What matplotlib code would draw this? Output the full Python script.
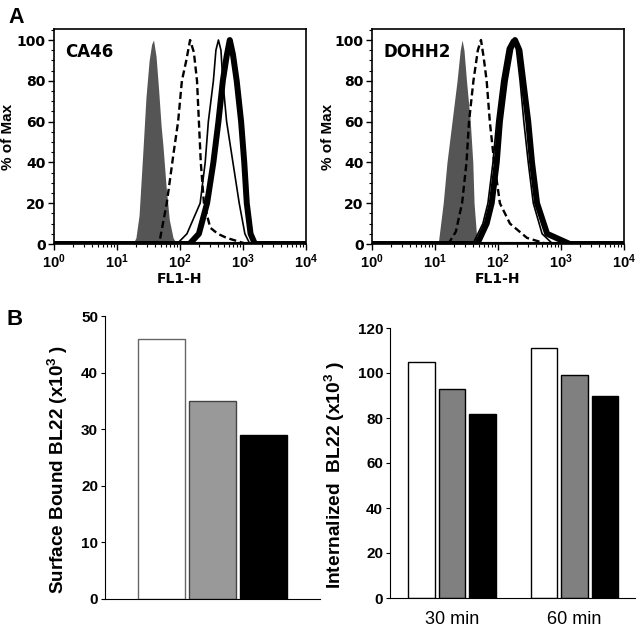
import numpy as np
import matplotlib
matplotlib.use('Agg')
import matplotlib.pyplot as plt
from matplotlib.ticker import MultipleLocator, LogLocator, NullFormatter

plt.rcParams['font.family'] = ['Liberation Sans', 'DejaVu Sans']
plt.rcParams['font.weight'] = 'bold'
plt.rcParams['mathtext.fontset'] = 'custom'
plt.rcParams['mathtext.rm'] = 'Liberation Sans:bold'
plt.rcParams['mathtext.it'] = 'Liberation Sans:bold'
plt.rcParams['mathtext.bf'] = 'Liberation Sans:bold'

# ---- panel A: flow histograms, (log10 FL1-H, % of Max) ----
ca46_ctrl_x = [0, 1.25, 1.30, 1.35, 1.41, 1.46, 1.51, 1.55, 1.58, 1.62, 1.66, 1.70, 1.73, 1.78, 1.83, 1.89, 1.95, 4]
ca46_ctrl_y = [0, 0, 3, 14, 45, 72, 90, 98, 100, 92, 76, 58, 48, 28, 12, 3, 0, 0]
ca46_dash_x = [0, 1.60, 1.68, 1.79, 1.90, 1.97, 2.03, 2.10, 2.16, 2.22, 2.27, 2.30, 2.33, 2.38, 2.48, 2.60, 2.74, 3.06, 4]
ca46_dash_y = [0, 0, 2, 20, 45, 60, 80, 90, 100, 94, 80, 60, 40, 20, 8, 5, 3, 0, 0]
ca46_thin_x = [0, 1.95, 2.11, 2.32, 2.40, 2.45, 2.53, 2.57, 2.61, 2.65, 2.68, 2.74, 2.84, 2.94, 3.03, 3.11, 4]
ca46_thin_y = [0, 0, 5, 20, 40, 60, 80, 95, 100, 95, 80, 60, 40, 20, 5, 0, 0]
ca46_thick_x = [0, 2.15, 2.30, 2.43, 2.53, 2.61, 2.68, 2.74, 2.79, 2.84, 2.90, 2.97, 3.02, 3.06, 3.12, 3.19, 4]
ca46_thick_y = [0, 0, 5, 20, 40, 60, 80, 92, 100, 93, 80, 60, 40, 20, 5, 0, 0]

dohh2_ctrl_x = [0, 1.05, 1.13, 1.19, 1.27, 1.35, 1.40, 1.43, 1.46, 1.50, 1.56, 1.60, 1.62, 1.67, 4]
dohh2_ctrl_y = [0, 0, 20, 40, 60, 80, 95, 100, 95, 80, 60, 40, 20, 0, 0]
dohh2_dash_x = [0, 1.21, 1.33, 1.43, 1.50, 1.54, 1.61, 1.68, 1.73, 1.77, 1.82, 1.87, 1.94, 2.03, 2.19, 2.46, 2.78, 4]
dohh2_dash_y = [0, 0, 6, 20, 40, 60, 80, 95, 100, 92, 80, 60, 40, 20, 10, 3, 0, 0]
dohh2_thin_x = [0, 1.60, 1.76, 1.84, 1.92, 1.98, 2.06, 2.15, 2.22, 2.29, 2.35, 2.41, 2.48, 2.56, 2.70, 2.87, 4]
dohh2_thin_y = [0, 0, 10, 20, 40, 60, 80, 96, 100, 96, 80, 60, 40, 20, 5, 0, 0]
dohh2_thick_x = [0, 1.67, 1.82, 1.90, 1.98, 2.03, 2.11, 2.20, 2.27, 2.34, 2.40, 2.48, 2.54, 2.62, 2.78, 3.14, 4]
dohh2_thick_y = [0, 0, 10, 20, 40, 60, 80, 96, 100, 95, 80, 60, 40, 20, 5, 0, 0]

# ---- panel B: bar values ----
surface_bound = [46, 35, 29]
times = ['30 min', '60 min']
internalized = {
    'white': [105, 111],
    'gray': [93, 99],
    'black': [82, 90],
}

fig = plt.figure(figsize=(6.4, 6.32), dpi=100)
WIDE = ['DejaVu Sans']  # panel A text in the figure is wide


def hist_panel(ax, name, ctrl, dash, thin, thick, ylab_x):
    ax.fill_between(10 ** np.array(ctrl[0]), ctrl[1], color='#555555', lw=0, zorder=2)
    ax.plot(10 ** np.array(dash[0]), dash[1], color='black', lw=1.7, ls=(0, (3, 1.6)), zorder=3)
    ax.plot(10 ** np.array(thin[0]), thin[1], color='black', lw=1.2, zorder=4)
    ax.plot(10 ** np.array(thick[0]), thick[1], color='black', lw=4.3, zorder=5)
    ax.axhline(0, color='black', lw=3, zorder=6)
    ax.set_xscale('log')
    ax.set_xlim(1, 1e4)
    ax.set_ylim(0, 105.4)
    ax.set_xticks([1, 10, 100, 1000, 10000])
    ax.set_xticklabels([r'$\mathregular{10^{%d}}$' % i for i in range(5)])
    ax.xaxis.set_minor_locator(LogLocator(base=10, subs=np.arange(2, 10)))
    ax.xaxis.set_minor_formatter(NullFormatter())
    ax.set_yticks([0, 20, 40, 60, 80, 100])
    ax.yaxis.set_minor_locator(MultipleLocator(5))
    ax.tick_params(which='major', length=4, width=1, labelsize=10.5, pad=2)
    ax.tick_params(which='minor', length=2, width=0.8)
    for lab in ax.get_yticklabels():
        lab.set_family(WIDE)
        lab.set_fontsize(10)
    for s in ax.spines.values():
        s.set_linewidth(1.2)
    ax.set_xlabel('FL1-H', fontsize=10, fontweight='bold', family=WIDE, labelpad=1)
    ax.set_ylabel('% of Max', fontsize=11, fontweight='bold')
    ax.yaxis.set_label_coords(ylab_x, 0.5)
    ax.text(0.045, 0.935, name, transform=ax.transAxes, fontsize=12, fontweight='bold',
            family=WIDE, va='top')


ax1 = fig.add_axes([54 / 640, 1 - 244 / 632, 252 / 640, 215 / 632])
hist_panel(ax1, 'CA46', (ca46_ctrl_x, ca46_ctrl_y), (ca46_dash_x, ca46_dash_y),
           (ca46_thin_x, ca46_thin_y), (ca46_thick_x, ca46_thick_y), -0.155)
ax2 = fig.add_axes([372 / 640, 1 - 244 / 632, 252 / 640, 215 / 632])
hist_panel(ax2, 'DOHH2', (dohh2_ctrl_x, dohh2_ctrl_y), (dohh2_dash_x, dohh2_dash_y),
           (dohh2_thin_x, dohh2_thin_y), (dohh2_thick_x, dohh2_thick_y), -0.147)

# surface bound bars
ax3 = fig.add_axes([105 / 640, 1 - 599 / 632, 215 / 640, 283 / 632])
ax3.bar(range(3), surface_bound, width=0.92, color=['white', '#999999', 'black'],
        edgecolor=['#666666', '#444444', 'black'], linewidth=1)
ax3.set_xlim(-1.108, 3.11)
ax3.set_ylim(0, 50)
ax3.set_xticks([])
ax3.set_yticks(range(0, 51, 10))
ax3.spines['top'].set_visible(False)
ax3.spines['right'].set_visible(False)
ax3.tick_params(axis='y', length=3, labelsize=11, pad=2)
ax3.set_ylabel(r'Surface Bound BL22 (x10$^{3}$ )', fontsize=13.6, fontweight='bold')
ax3.yaxis.set_label_coords(-0.163, 0.458)

# internalized bars
ax4 = fig.add_axes([390 / 640, 1 - 598 / 632, 245 / 640, 270 / 632])
grp = np.arange(len(times))
off = 0.249
ax4.bar(grp - off, internalized['white'], width=0.22, color='white', edgecolor='black', linewidth=1)
ax4.bar(grp, internalized['gray'], width=0.22, color='#808080', edgecolor='black', linewidth=1)
ax4.bar(grp + off, internalized['black'], width=0.22, color='black', edgecolor='black', linewidth=1)
ax4.set_xlim(-0.506, 1.494)
ax4.set_ylim(0, 120)
ax4.set_yticks(range(0, 121, 20))
ax4.set_xticks(grp)
ax4.set_xticklabels(times, fontsize=13, fontweight='normal')
ax4.spines['top'].set_visible(False)
ax4.spines['right'].set_visible(False)
ax4.tick_params(axis='y', length=3, labelsize=11, pad=2)
ax4.tick_params(axis='x', length=0, pad=9)
ax4.set_ylabel(r'Internalized  BL22 (x10$^{3}$ )', fontsize=13.8, fontweight='bold')
ax4.yaxis.set_label_coords(-0.176, 0.457)

fig.text(8 / 640, 1 - 23 / 632, 'A', fontsize=15.5, fontweight='bold')
fig.text(7 / 640, 1 - 325 / 632, 'B', fontsize=16, fontweight='bold')

fig.savefig('out.png', dpi=100)
